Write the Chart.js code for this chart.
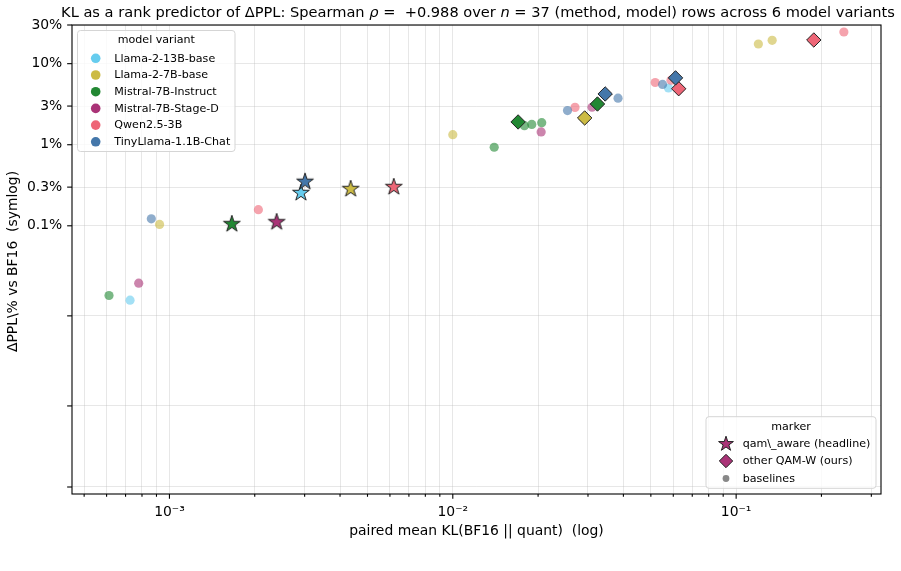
<!DOCTYPE html>
<html><head><meta charset="utf-8">
<script src="https://cdn.jsdelivr.net/npm/chart.js@4/dist/chart.umd.min.js"></script>
<style>html,body{margin:0;padding:0;background:#fff}#wrap{width:901px;height:571px;position:relative}</style>
</head><body><div id="wrap"><canvas id="c" width="901" height="571"></canvas></div>
<script>
// ---------------- data ----------------
const MODELS = ['Llama-2-13B-base','Llama-2-7B-base','Mistral-7B-Instruct','Mistral-7B-Stage-D','Qwen2.5-3B','TinyLlama-1.1B-Chat'];
const MODEL_COLORS = ['#66CCEE','#CCBB44','#228833','#AA3377','#EE6677','#4477AA'];

// qam_aware (headline) rows, one per model, same order as MODELS
const STAR_KL  = [2.91e-3, 4.36e-3, 1.66e-3, 2.39e-3, 6.19e-3, 3.01e-3];
const STAR_PPL = [0.254, 0.284, 0.105, 0.111, 0.301, 0.349];

// other QAM-W rows
const DIAMOND_MODEL = [1, 2, 2, 4, 4, 5, 5];
const DIAMOND_KL  = [0.0292, 0.0170, 0.0324, 0.0627, 0.188, 0.0345, 0.0611];
const DIAMOND_PPL = [2.14, 1.91, 3.18, 4.91, 19.6, 4.23, 6.68];

// baseline rows
const BASE_MODEL = [0,0, 1,1,1,1, 2,2,2,2,2, 3,3,3, 4,4,4,4,4, 5,5,5,5];
const BASE_KL  = [7.26e-4, 0.0577, 9.23e-4, 0.0100, 0.1198, 0.1340, 6.12e-4, 0.0140, 0.0179, 0.0190, 0.0206,
                  7.79e-4, 0.0205, 0.0310, 2.06e-3, 0.0270, 0.0518, 0.0589, 0.240, 8.63e-4, 0.0254, 0.0383, 0.0550];
const BASE_PPL = [0.0174, 5.01, 0.104, 1.33, 17.5, 19.4, 0.0226, 0.931, 1.72, 1.78, 1.87,
                  0.0363, 1.44, 2.90, 0.158, 2.89, 5.86, 6.25, 24.6, 0.122, 2.64, 3.75, 5.55];

// ticks
const X_TICKS = [5e-4,6e-4,7e-4,8e-4,9e-4,1e-3,2e-3,3e-3,4e-3,5e-3,6e-3,7e-3,8e-3,9e-3,
                 1e-2,2e-2,3e-2,4e-2,5e-2,6e-2,7e-2,8e-2,9e-2,1e-1,2e-1,3e-1];
const X_MAJOR = [1e-3, 1e-2, 1e-1];
const X_MAJOR_LABELS = ['10\u207B\u00B3', '10\u207B\u00B2', '10\u207B\u00B9'];
const Y_TICKS = [-1, -0.1, 0, 0.1, 0.3, 1, 3, 10, 30];
const Y_TICK_LABELS = ['', '', '', '0.1%', '0.3%', '1%', '3%', '10%', '30%'];

const X_MIN = 4.53e-4, X_MAX = 0.3245, Y_MIN = -1.22, Y_MAX = 30;
const LINTHRESH = 0.1;

// ---------------- symlog scale ----------------
const LINSCALE_ADJ = 1 / (1 - 1 / 10);
function symT(v) {
  const a = Math.abs(v);
  if (a <= LINTHRESH) return v / LINTHRESH * LINSCALE_ADJ;
  return Math.sign(v) * (LINSCALE_ADJ + Math.log10(a / LINTHRESH));
}
function symInv(t) {
  const a = Math.abs(t);
  if (a <= LINSCALE_ADJ) return t / LINSCALE_ADJ * LINTHRESH;
  return Math.sign(t) * LINTHRESH * Math.pow(10, a - LINSCALE_ADJ);
}
class SymlogScale extends Chart.Scale {
  determineDataLimits() {
    const mm = this.getMinMax(true);
    this.min = Number.isFinite(this.options.min) ? this.options.min : mm.min;
    this.max = Number.isFinite(this.options.max) ? this.options.max : mm.max;
  }
  buildTicks() { return Y_TICKS.map(v => ({ value: v, major: true })); }
  configure() {
    super.configure();
    this._tmin = symT(this.min);
    this._tmax = symT(this.max);
  }
  getLabelForValue(v) { return String(v); }
  getPixelForValue(v) {
    return this.getPixelForDecimal((symT(v) - this._tmin) / (this._tmax - this._tmin));
  }
  getValueForPixel(p) {
    return symInv(this._tmin + this.getDecimalForPixel(p) * (this._tmax - this._tmin));
  }
}
SymlogScale.id = 'symlog';
SymlogScale.defaults = {};
Chart.register(SymlogScale);

// ---------------- marker helpers ----------------
function starPath(ctx, cx, cy, R) {
  const r = R * 0.381966;
  ctx.beginPath();
  for (let k = 0; k < 10; k++) {
    const ang = -Math.PI / 2 + k * Math.PI / 5;
    const rr = (k % 2 === 0) ? R : r;
    const x = cx + rr * Math.cos(ang), y = cy + rr * Math.sin(ang);
    if (k === 0) ctx.moveTo(x, y); else ctx.lineTo(x, y);
  }
  ctx.closePath();
}
function makeStar(color, R) {
  const size = Math.ceil(2 * R + 4);
  const c = document.createElement('canvas');
  c.width = size; c.height = size;
  const g = c.getContext('2d');
  starPath(g, size / 2, size / 2, R);
  g.fillStyle = color; g.fill();
  g.lineWidth = 1; g.strokeStyle = '#222'; g.lineJoin = 'miter'; g.stroke();
  return c;
}
function alpha(hex, a) {
  const n = parseInt(hex.slice(1), 16);
  return `rgba(${(n >> 16) & 255},${(n >> 8) & 255},${n & 255},${a})`;
}
const STAR_IMGS = MODEL_COLORS.map(c => makeStar(c, 8.8));

// ---------------- decorations plugin ----------------
const FONT = "'DejaVu Sans', sans-serif";
const deco = {
  id: 'deco',
  afterDraw(chart) {
    const ctx = chart.ctx, a = chart.chartArea;
    const xs = chart.scales.x, ys = chart.scales.y;
    ctx.save();
    // tick marks
    ctx.strokeStyle = '#000'; ctx.lineWidth = 1.1;
    xs.ticks.forEach(t => {
      const px = xs.getPixelForValue(t.value);
      const len = t.major ? 4.86 : 2.78;
      ctx.beginPath(); ctx.moveTo(px, a.bottom); ctx.lineTo(px, a.bottom + len); ctx.stroke();
    });
    ys.ticks.forEach(t => {
      const py = ys.getPixelForValue(t.value);
      ctx.beginPath(); ctx.moveTo(a.left, py); ctx.lineTo(a.left - 4.86, py); ctx.stroke();
    });
    // spines
    ctx.strokeStyle = '#000'; ctx.lineWidth = 1.1;
    ctx.strokeRect(a.left, a.top, a.right - a.left, a.bottom - a.top);

    // axis labels
    ctx.fillStyle = '#000';
    ctx.font = '13.9px ' + FONT;
    ctx.textAlign = 'center'; ctx.textBaseline = 'middle';
    ctx.fillText('paired mean KL(BF16 || quant)  (log)', (a.left + a.right) / 2, 531.5);
    ctx.save();
    ctx.translate(13.5, (a.top + a.bottom) / 2 + 2);
    ctx.rotate(-Math.PI / 2);
    ctx.fillText('\u0394PPL\\% vs BF16  (symlog)', 0, 0);
    ctx.restore();

    // title (with italic math symbols)
    const segs = [
      ['KL as a rank predictor of \u0394PPL: Spearman ', false],
      ['\u03C1', true],
      [' =  +0.988 over ', false],
      ['n', true],
      [' = 37 (method, model) rows across 6 model variants', false]
    ];
    const TS = 14.6;
    let total = 0;
    segs.forEach(s => { ctx.font = (s[1] ? 'italic ' : '') + TS + 'px ' + FONT; total += ctx.measureText(s[0]).width; });
    let tx = 478 - total / 2;
    ctx.textAlign = 'left'; ctx.textBaseline = 'alphabetic';
    segs.forEach(s => {
      ctx.font = (s[1] ? 'italic ' : '') + TS + 'px ' + FONT;
      ctx.fillText(s[0], tx, 16.5);
      tx += ctx.measureText(s[0]).width;
    });

    // legend boxes
    function box(x0, y0, x1, y1) {
      ctx.beginPath();
      ctx.roundRect(x0, y0, x1 - x0, y1 - y0, 3);
      ctx.fillStyle = 'rgba(255,255,255,0.8)'; ctx.fill();
      ctx.strokeStyle = '#d5d5d5'; ctx.lineWidth = 1; ctx.stroke();
    }
    const LF = '11.1px ' + FONT;
    // legend 1: model variant
    box(77.5, 30.5, 235, 151.5);
    ctx.fillStyle = '#000'; ctx.font = LF; ctx.textAlign = 'center'; ctx.textBaseline = 'middle';
    ctx.fillText('model variant', 156.3, 40.5);
    ctx.textAlign = 'left';
    MODELS.forEach((m, i) => {
      const y = 58.3 + i * 16.7;
      ctx.beginPath(); ctx.arc(95.7, y, 4.8, 0, Math.PI * 2);
      ctx.fillStyle = MODEL_COLORS[i]; ctx.fill();
      ctx.fillStyle = '#000'; ctx.fillText(m, 114.3, y + 0.5);
    });
    // legend 2: marker
    box(706, 416.7, 876, 488.3);
    ctx.fillStyle = '#000'; ctx.textAlign = 'center';
    ctx.fillText('marker', 791, 427.5);
    ctx.textAlign = 'left';
    const pur = MODEL_COLORS[3];
    starPath(ctx, 726, 444, 7.8);
    ctx.fillStyle = pur; ctx.fill(); ctx.strokeStyle = '#222'; ctx.lineWidth = 1; ctx.stroke();
    ctx.beginPath();
    ctx.moveTo(726, 454.3); ctx.lineTo(732.7, 461); ctx.lineTo(726, 467.7); ctx.lineTo(719.3, 461); ctx.closePath();
    ctx.fillStyle = pur; ctx.fill(); ctx.stroke();
    ctx.beginPath(); ctx.arc(726, 478.5, 3.4, 0, Math.PI * 2);
    ctx.fillStyle = '#888'; ctx.fill();
    ctx.fillStyle = '#000';
    ctx.fillText('qam\\_aware (headline)', 742.7, 444);
    ctx.fillText('other QAM-W (ours)', 742.7, 461.5);
    ctx.fillText('baselines', 742.7, 479);
    ctx.restore();
  }
};

// ---------------- chart ----------------
Chart.defaults.font.family = FONT;
const GRID = 'rgba(176,176,176,0.3)';
new Chart(document.getElementById('c'), {
  type: 'scatter',
  data: {
    datasets: [
      {
        label: 'qam_aware (headline)',
        data: STAR_KL.map((x, i) => ({ x: x, y: STAR_PPL[i] })),
        pointStyle: STAR_IMGS,
        pointRadius: 9,
        order: 0
      },
      {
        label: 'other QAM-W (ours)',
        data: DIAMOND_KL.map((x, i) => ({ x: x, y: DIAMOND_PPL[i] })),
        pointStyle: 'rectRot',
        pointRadius: 7.2,
        backgroundColor: DIAMOND_MODEL.map(m => MODEL_COLORS[m]),
        borderColor: '#222',
        borderWidth: 1,
        order: 1
      },
      {
        label: 'baselines',
        data: BASE_KL.map((x, i) => ({ x: x, y: BASE_PPL[i] })),
        pointStyle: 'circle',
        pointRadius: 4.6,
        backgroundColor: BASE_MODEL.map(m => alpha(MODEL_COLORS[m], 0.6)),
        borderWidth: 0,
        order: 2
      }
    ]
  },
  options: {
    responsive: false,
    animation: false,
    devicePixelRatio: 1,
    layout: { padding: { top: 25, right: 20, left: 0, bottom: 0 } },
    plugins: { legend: { display: false }, tooltip: { enabled: false }, title: { display: false } },
    scales: {
      x: {
        type: 'logarithmic',
        min: X_MIN, max: X_MAX,
        bounds: 'data',
        afterBuildTicks: s => { s.ticks = X_TICKS.map(v => ({ value: v, major: X_MAJOR.includes(v) })); },
        afterFit: s => { s.height = 77; },
        ticks: {
          autoSkip: false, maxRotation: 0, minRotation: 0, padding: 9.7, color: '#000',
          font: { size: 13.9 },
          callback: v => { const i = X_MAJOR.indexOf(v); return i >= 0 ? X_MAJOR_LABELS[i] : ''; }
        },
        grid: { color: GRID, lineWidth: 1, drawTicks: false },
        border: { display: false }
      },
      y: {
        type: 'symlog',
        position: 'left',
        min: Y_MIN, max: Y_MAX,
        afterFit: s => { s.width = 72; },
        ticks: {
          autoSkip: false, padding: 9.7, color: '#000',
          font: { size: 13.9 },
          callback: v => { const i = Y_TICKS.indexOf(v); return i >= 0 ? Y_TICK_LABELS[i] : ''; }
        },
        grid: { color: GRID, lineWidth: 1, drawTicks: false },
        border: { display: false }
      }
    }
  },
  plugins: [deco]
});
</script>
</body></html>
